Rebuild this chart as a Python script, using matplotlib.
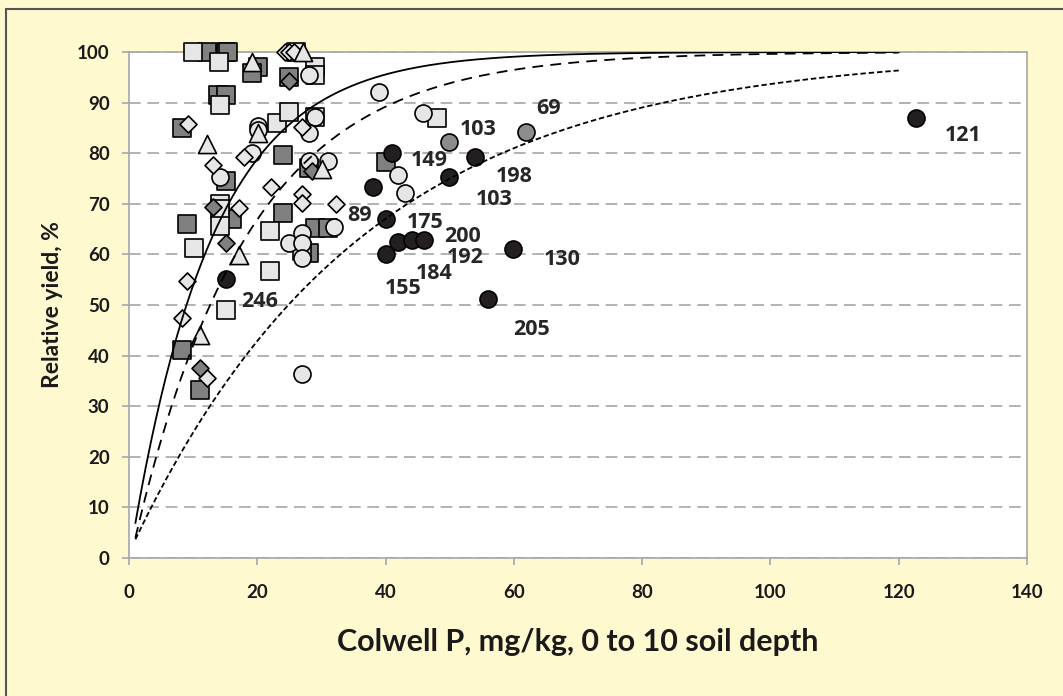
import numpy as np
import matplotlib
matplotlib.use("Agg")
from matplotlib import pyplot as plt
from matplotlib.patches import Rectangle

# light grey open circles
lc_x = [28.1, 20.1, 20.1, 29.0, 28.0, 19.1, 28.0, 31.1, 14.2, 38.9, 45.9, 42.0, 43.1, 32.0, 25.0, 27.0, 27.0, 27.0, 27.0]
lc_y = [95.4, 85.3, 84.6, 87.2, 83.9, 80.0, 78.5, 78.5, 75.2, 92.0, 88.0, 75.7, 72.1, 65.5, 62.2, 64.2, 62.2, 59.2, 36.3]

# light grey squares
ls_x = [10.0, 14.0, 26.1, 29.0, 29.0, 14.2, 23.0, 25.0, 29.0, 14.2, 14.2, 14.2, 10.1, 22.0, 27.0, 22.0, 15.1, 48.0]
ls_y = [100, 98.0, 100, 97.1, 95.5, 89.5, 86.0, 88.2, 87.2, 70.0, 69.0, 65.7, 61.2, 64.6, 60.6, 56.8, 49.1, 87.0]

# dark grey squares
ds_x = [12.2, 15.1, 15.4, 20.1, 19.1, 13.9, 15.2, 25.0, 8.2, 24.0, 28.0, 15.2, 40.0, 16.1, 9.1, 24.0, 29.0, 31.0, 28.0, 8.2, 11.1]
ds_y = [100, 100, 100, 97.0, 95.8, 91.5, 91.5, 95.1, 85.0, 79.6, 77.0, 74.5, 78.3, 66.9, 66.1, 68.1, 65.2, 65.2, 60.2, 41.2, 33.2]

# light grey diamonds
ld_x = [24.3, 25.0, 25.8, 9.2, 27.0, 18.0, 13.1, 22.2, 27.0, 27.0, 32.2, 17.2, 9.1, 8.2, 12.2]
ld_y = [100, 100, 100, 85.8, 85.1, 79.2, 77.6, 73.4, 72.0, 70.1, 70.0, 69.2, 54.8, 47.4, 35.5]

# dark grey diamonds
dd_x = [25.0, 28.6, 13.1, 15.1, 11.0]
dd_y = [94.2, 76.4, 69.3, 62.3, 37.5]

# light grey triangles
lt_x = [27.1, 19.1, 12.1, 20.1, 30.1, 17.1, 11.0]
lt_y = [100, 98.0, 81.8, 83.9, 76.9, 59.9, 44.0]

# black circles (labelled sites)
bc_x = [15.1, 41.0, 54.0, 38.0, 49.9, 40.0, 41.9, 44.1, 46.0, 40.0, 59.9, 56.0, 122.7]
bc_y = [55.1, 80.1, 79.3, 73.4, 75.2, 66.9, 62.5, 62.8, 62.8, 60.1, 61.1, 51.2, 87.0]

# mid grey circles (labelled sites)
gc_x = [49.9, 61.9]
gc_y = [82.3, 84.1]

# point labels and where they sit
labels = ["246", "149", "198", "103", "89", "175", "200", "192", "184", "155", "130", "205", "121", "103", "69"]
label_x = [20.4, 46.8, 60.0, 56.9, 35.9, 46.2, 52.0, 52.4, 47.6, 42.8, 67.5, 62.7, 130.0, 54.5, 65.4]
label_y = [50.7, 78.5, 75.4, 70.8, 67.6, 66.4, 63.5, 59.4, 56.2, 53.2, 58.9, 45.2, 83.4, 84.6, 88.9]

# response curves y = 100 - b*exp(-c*x)
curve_b = [100.6, 101.5, 99.0]
curve_c = [0.078, 0.056, 0.0275]
curve_styles = ['-', (0, (6, 4)), (0, (3, 1.6))]

LIGHT = '#E6E6E6'
DARK = '#808080'

fig = plt.figure(figsize=(10.63, 6.96), dpi=100, facecolor='#FFF9D0')
fig.patches.append(Rectangle((6 / 1063, -0.1), 1.2, 1.1 - 9 / 696, transform=fig.transFigure,
                             fill=False, edgecolor='#555555', lw=1.5))
ax = fig.add_axes([129 / 1063, 1 - 558 / 696, (1027 - 129) / 1063, (558 - 52) / 696])
ax.set_facecolor('white')

kw = dict(edgecolors='black', linewidths=1.2, clip_on=False, zorder=3)
ax.scatter(ds_x, ds_y, marker='s', s=175, facecolors=DARK, **kw)
ax.scatter(ls_x, ls_y, marker='s', s=175, facecolors=LIGHT, **kw)
ax.scatter(lc_x, lc_y, marker='o', s=150, facecolors=LIGHT, **kw)
ax.scatter(ld_x, ld_y, marker='D', s=75, facecolors=LIGHT, **kw)
ax.scatter(dd_x, dd_y, marker='D', s=75, facecolors=DARK, **kw)
ax.scatter(lt_x, lt_y, marker='^', s=170, facecolors=LIGHT, **kw)
ax.scatter(gc_x, gc_y, marker='o', s=150, facecolors='#8C8C8C', **kw)
ax.scatter(bc_x, bc_y, marker='o', s=150, facecolors='#231F20', **kw)

xs = np.linspace(1, 120, 300)
for b, c, ls in zip(curve_b, curve_c, curve_styles):
    ax.plot(xs, np.minimum(100, 100 - b * np.exp(-c * xs)), color='black', lw=1.3,
            linestyle=ls, zorder=4)

for t, x, y in zip(labels, label_x, label_y):
    ax.text(x, y, t, ha='center', va='center', fontsize=15.5, fontweight='bold',
            family='Open Sans', color='#262626', zorder=5)

ax.set_xlim(0, 140)
ax.set_ylim(0, 100)
ax.set_xticks(np.arange(0, 141, 20))
ax.set_yticks(np.arange(0, 101, 10))
ax.yaxis.grid(True, color='#A6A6A6', linestyle=(0, (7, 4)), lw=1.2, zorder=0)
ax.set_axisbelow(True)
for sp in ax.spines.values():
    sp.set_color('#A6A6A6')
    sp.set_linewidth(1.2)
ax.tick_params(axis='both', colors='#A6A6A6', length=5, width=1.2, labelcolor='#1A1A1A')
ax.tick_params(axis='x', pad=14)
ax.tick_params(axis='y', pad=9)
for lab in ax.get_xticklabels() + ax.get_yticklabels():
    lab.set_family('Lato')
    lab.set_fontweight('bold')
    lab.set_fontsize(13.5)

ax.set_xlabel('Colwell P, mg/kg, 0 to 10 soil depth', family='Lato', fontweight='bold',
              fontsize=22, color='#1A1A1A', labelpad=19)
ax.set_ylabel('Relative yield, %', family='Lato', fontweight='bold', fontsize=16.5,
              color='#1A1A1A', labelpad=10)

fig.savefig('out.png', dpi=100, facecolor=fig.get_facecolor())
